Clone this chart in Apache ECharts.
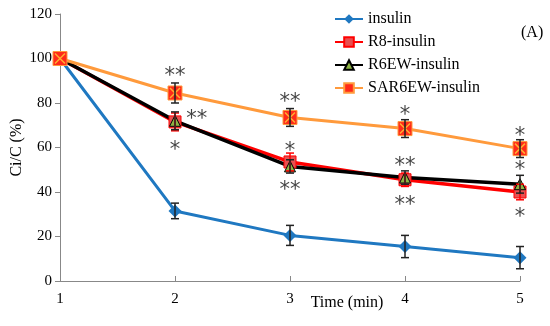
<!DOCTYPE html>
<html><head><meta charset="utf-8">
<script src="https://cdn.jsdelivr.net/npm/echarts@6/dist/echarts.min.js"></script>
<style>html,body{margin:0;padding:0;background:#fff}#c{width:550px;height:326px}</style>
</head><body><div id="c"></div>
<script>
const times = [1, 2, 3, 4, 5];
const yTicks = [0, 20, 40, 60, 80, 100, 120];
const insulin = [100, 31.5, 20.5, 15.5, 10.5];
const insulinErr = [0, 3.5, 4.5, 5, 5];
const r8 = [100, 71.5, 53.5, 45.5, 40];
const r8Err = [0, 4, 4, 3, 3.5];
const r6ew = [100, 72, 51.5, 46.5, 43.5];
const r6ewErr = [0, 4, 3, 3, 4];
const sar6ew = [100, 84.5, 73.5, 68.5, 59.5];
const sar6ewErr = [0, 4.5, 4, 4, 4];
// significance marks: [time, value, text]
const stars = [
  [2, 92, '**'], [2.19, 72.5, '**'], [2, 58.5, '*'],
  [3, 80, '**'], [3, 58, '*'], [3, 40.5, '**'],
  [4, 74.5, '*'], [4, 51.5, '**'], [4, 34, '**'],
  [5, 65, '*'], [5, 49.5, '*'], [5, 28.5, '*']
];

const serif = '"Liberation Serif","DejaVu Serif",serif';
const chart = echarts.init(document.getElementById('c'));

function pts(vals){ return times.map((t,i)=>[t, vals[i]]); }
function errData(vals, errs){ return times.map((t,i)=>[t, vals[i]-errs[i], vals[i]+errs[i]]).filter((d,i)=>errs[i]>0); }
function errSeries(vals, errs, color){
  return {
    type:'custom', z:5, silent:true,
    data: errData(vals, errs),
    encode:{x:0, y:[1,2]},
    renderItem:function(params, api){
      const x = api.value(0);
      const lo = api.coord([x, api.value(1)]);
      const hi = api.coord([x, api.value(2)]);
      const w = 4;
      const st = {stroke: color, lineWidth: 1.5};
      return {type:'group', children:[
        {type:'line', shape:{x1:lo[0], y1:lo[1], x2:hi[0], y2:hi[1]}, style:st},
        {type:'line', shape:{x1:lo[0]-w, y1:lo[1], x2:lo[0]+w, y2:lo[1]}, style:st},
        {type:'line', shape:{x1:hi[0]-w, y1:hi[1], x2:hi[0]+w, y2:hi[1]}, style:st}
      ]};
    }
  };
}

chart.setOption({
  animation:false,
  backgroundColor:'#fff',
  grid:{left:60, right:30, top:14, bottom:45, containLabel:false, outerBoundsMode:'none'},
  legend:{
    orient:'vertical', left:329, top:6, itemWidth:28, itemHeight:12, itemGap:7,
    textStyle:{fontFamily:serif, fontSize:16, color:'#000'},
    data:['insulin','R8-insulin','R6EW-insulin','SAR6EW-insulin']
  },
  graphic:[{type:'text', left:521, top:25, style:{text:'(A)', font:'16px '+serif, fill:'#000'}}],
  xAxis:{
    type:'value', min:1, max:5, interval:1,
    name:'Time (min)', nameLocation:'middle', nameGap:14, nameMoveOverlap:false,
    nameTextStyle:{fontFamily:serif, fontSize:16, color:'#000', padding:[0,0,0,114]},
    axisLine:{lineStyle:{color:'#888', width:1}},
    axisTick:{inside:true, length:5, lineStyle:{color:'#888'}},
    axisLabel:{fontFamily:serif, fontSize:15, color:'#000', margin:11},
    splitLine:{show:false}
  },
  yAxis:{
    type:'value', min:yTicks[0], max:yTicks[yTicks.length-1], interval:20,
    name:'Ci/C (%)', nameLocation:'middle', nameGap:35, nameRotate:90, nameMoveOverlap:false,
    nameTextStyle:{fontFamily:serif, fontSize:16, color:'#000'},
    axisLine:{show:true, lineStyle:{color:'#888', width:1}},
    axisTick:{show:true, length:5, lineStyle:{color:'#888'}},
    axisLabel:{fontFamily:serif, fontSize:15, color:'#000', margin:8},
    splitLine:{show:false}
  },
  series:[
    {name:'insulin', type:'line', data:pts(insulin), z:3,
     lineStyle:{color:'#1F78C1', width:3}, itemStyle:{color:'#1F78C1'},
     symbol:'diamond', symbolSize:13, showSymbol:true},
    {name:'R8-insulin', type:'line', data:pts(r8), z:3,
     lineStyle:{color:'#FF0000', width:3.5}, itemStyle:{color:'#E85050', borderColor:'#FF0000', borderWidth:1},
     symbol:'rect', symbolSize:12},
    {name:'R6EW-insulin', type:'line', data:pts(r6ew), z:3,
     lineStyle:{color:'#000', width:3.5}, itemStyle:{color:'#8DB443', borderColor:'#000', borderWidth:1},
     symbol:'triangle', symbolSize:11},
    {name:'SAR6EW-insulin', type:'line', data:pts(sar6ew), z:3,
     lineStyle:{color:'#FF9A3C', width:3}, itemStyle:{color:'#FF2A1A', borderColor:'#FF9A3C', borderWidth:1},
     symbol:'rect', symbolSize:14},
    {type:'custom', z:4, silent:true, data:pts(sar6ew), encode:{x:0,y:1},
     renderItem:function(params, api){
       const c = api.coord([api.value(0), api.value(1)]);
       const d = 5;
       const st = {stroke:'#FFB030', lineWidth:1.5};
       return {type:'group', children:[
         {type:'line', shape:{x1:c[0]-d,y1:c[1]-d,x2:c[0]+d,y2:c[1]+d}, style:st},
         {type:'line', shape:{x1:c[0]-d,y1:c[1]+d,x2:c[0]+d,y2:c[1]-d}, style:st}
       ]};
     }},
    errSeries(insulin, insulinErr, '#222'),
    errSeries(r8, r8Err, '#FF0000'),
    errSeries(r6ew, r6ewErr, '#222'),
    errSeries(sar6ew, sar6ewErr, '#222'),
    {type:'scatter', z:6, silent:true, symbolSize:0, data:stars,
     label:{show:true, position:'inside', formatter:p=>p.value[2],
       fontFamily:'"DejaVu Sans",sans-serif', fontSize:21, color:'#111'}}
  ]
});
</script></body></html>
